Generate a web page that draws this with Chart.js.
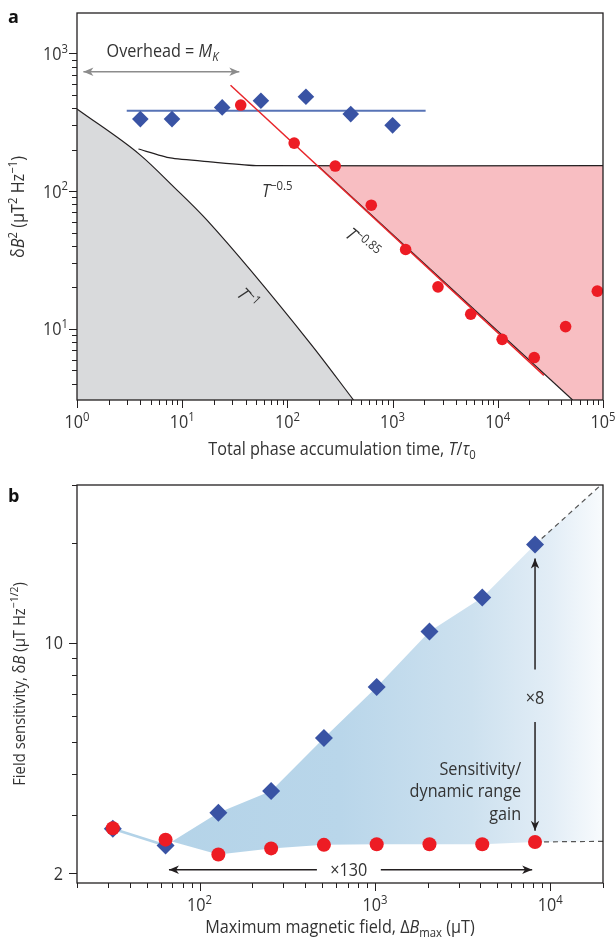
<!DOCTYPE html>
<html>
<head>
<meta charset="utf-8">
<script src="https://cdn.jsdelivr.net/npm/chart.js@4.4.1/dist/chart.umd.min.js"></script>
<style>
  html, body { margin: 0; padding: 0; background: #fff; }
  #wrap { position: relative; width: 616px; height: 941px; }
  .panel { position: absolute; left: 0; width: 616px; }
  #panelA { top: 0; height: 470px; }
  #panelB { top: 470px; height: 471px; }
</style>
</head>
<body>
<div id="wrap">
  <div class="panel" id="panelA"><canvas id="chartA" width="616" height="470"></canvas></div>
  <div class="panel" id="panelB"><canvas id="chartB" width="616" height="471"></canvas></div>
</div>
<script>
// ---------- panel a : dB^2 vs total phase accumulation time ----------
const aDiamondT = [4, 8, 24, 56, 150, 400, 1000];
const aDiamondB2 = [333, 333, 405, 453, 484, 362, 300];
const aCircleT = [36, 116, 285, 627, 1330, 2700, 5530, 11000, 22200, 44100, 88300];
const aCircleB2 = [421, 223, 152, 79, 37.7, 20.2, 12.8, 8.4, 6.2, 10.4, 18.8];
const aFlatFitT = [2.97, 2060];
const aFlatFitB2 = [383, 383];
const aSteepFitT = [28.8, 27400];
const aSteepFitB2 = [586, 4.6];
const aHalfBoundT = [3.84, 7.7, 18.5, 53, 100000];      // T^-0.5 bound
const aHalfBoundB2 = [202, 174, 163, 153, 153];
const aLimitT = [1, 4, 8.3, 17.2, 165.6, 425];           // T^-1 limit (grey)
const aLimitB2 = [394, 182.5, 107.4, 61.5, 7.83, 3.05];
const aGainT = [194.5, 100000, 100000, 51400];           // pink region
const aGainB2 = [153, 153, 3.05, 3.05];
const aEdgeT = [194.5, 51400];
const aEdgeB2 = [153, 3.05];
const aXTicks = [1, 10, 100, 1000, 10000, 100000];
const aXTickLabels = ['10^0', '10^1', '10^2', '10^3', '10^4', '10^5'];
const aYTicks = [10, 100, 1000];
const aYTickLabels = ['10^1', '10^2', '10^3'];

// ---------- panel b : field sensitivity vs maximum field ----------
const bFieldMax = [32, 64, 128, 256, 512, 1024, 2048, 4096, 8192];
const bDiamond = [2.73, 2.43, 3.05, 3.55, 5.14, 7.34, 10.8, 13.7, 19.8];
const bCircle = [2.74, 2.53, 2.28, 2.38, 2.44, 2.45, 2.45, 2.45, 2.49];
const bTrendField = [8192, 20000];
const bDiamondTrend = [19.8, 30.4];
const bCircleTrend = [2.49, 2.5];
const bXTicks = [100, 1000, 10000];
const bXTickLabels = ['10^2', '10^3', '10^4'];
const bYTicks = [2, 10];
const bYTickLabels = ['2', '10'];

const FONT = '"Open Sans", "DejaVu Sans", sans-serif';
const TEXT = '#333333';
const AXIS = '#231f20';
const BLUE = '#3953a4';
const RED = '#ed1c24';
const SQUEEZE = 0.9;   // narrower letters, closer to the original typeface
const FS = 18;

const pts = (xs, ys) => xs.map((x, i) => ({ x, y: ys[i] }));

function fontStr(size, italic, bold) {
  return (italic ? 'italic ' : '') + (bold ? 'bold ' : '') + size + 'px ' + FONT;
}

// draw text made of segments: {t, it, sup, sub}
function drawRich(ctx, segs, x, y, size, align, angle, middle) {
  ctx.save();
  ctx.translate(x, y);
  if (angle) ctx.rotate(angle);
  ctx.scale(SQUEEZE, 1);
  const parts = segs.map(s => {
    const sz = (s.sup || s.sub) ? size * 0.7 : size;
    ctx.font = fontStr(sz, s.it);
    return { s, sz, w: ctx.measureText(s.t).width };
  });
  const total = parts.reduce((a, p) => a + p.w, 0);
  let cx = align === 'center' ? -total / 2 : align === 'right' ? -total : 0;
  const base = middle ? size * 0.36 : 0;
  ctx.textAlign = 'left';
  ctx.textBaseline = 'alphabetic';
  ctx.fillStyle = TEXT;
  parts.forEach(p => {
    ctx.font = fontStr(p.sz, p.s.it);
    const dy = p.s.sup ? -size * 0.4 : p.s.sub ? size * 0.22 : 0;
    ctx.fillText(p.s.t, cx, base + dy);
    cx += p.w;
  });
  ctx.restore();
}

function tickSegs(label) {
  const [b, e] = label.split('^');
  return e === undefined ? [{ t: b }] : [{ t: b }, { t: e, sup: true }];
}

function minorTicks(min, max) {
  const out = [];
  for (let d = Math.pow(10, Math.floor(Math.log10(min))); d <= max; d *= 10) {
    for (let m = 2; m <= 9; m++) {
      const v = m * d;
      if (v >= min * 0.999 && v <= max * 1.001) out.push(v);
    }
  }
  return out;
}

function arrowHead(ctx, tx, ty, ang, len, w) {
  const c = Math.cos(ang), s = Math.sin(ang);
  ctx.beginPath();
  ctx.moveTo(tx, ty);
  ctx.lineTo(tx - len * c + w * s, ty - len * s - w * c);
  ctx.lineTo(tx - len * 0.72 * c, ty - len * 0.72 * s);
  ctx.lineTo(tx - len * c - w * s, ty - len * s + w * c);
  ctx.closePath();
  ctx.fill();
}

function arrow(ctx, x1, y1, x2, y2, color, both) {
  ctx.save();
  ctx.strokeStyle = color;
  ctx.fillStyle = color;
  ctx.lineWidth = 1.5;
  ctx.beginPath();
  ctx.moveTo(x1, y1);
  ctx.lineTo(x2, y2);
  ctx.stroke();
  const ang = Math.atan2(y2 - y1, x2 - x1);
  arrowHead(ctx, x2, y2, ang, 10, 4.2);
  if (both) arrowHead(ctx, x1, y1, ang + Math.PI, 10, 4.2);
  ctx.restore();
}

// frame, log ticks and tick labels drawn through the chart scales
const logAxes = {
  id: 'logAxes',
  afterDraw(chart, args, o) {
    const ctx = chart.ctx;
    const area = chart.chartArea;
    const xs = chart.scales.x, ys = chart.scales.y;
    ctx.save();
    ctx.strokeStyle = AXIS;
    ctx.lineWidth = 1.3;
    ctx.strokeRect(area.left, area.top, area.right - area.left, area.bottom - area.top);
    ctx.lineWidth = 1;
    ctx.beginPath();
    minorTicks(xs.min, xs.max).forEach(v => {
      const px = Math.round(xs.getPixelForValue(v)) + 0.5;
      ctx.moveTo(px, area.bottom);
      ctx.lineTo(px, area.bottom + 5);
    });
    o.xMajor.forEach(v => {
      const px = Math.round(xs.getPixelForValue(v)) + 0.5;
      ctx.moveTo(px, area.bottom);
      ctx.lineTo(px, area.bottom + 8);
    });
    minorTicks(ys.min, ys.max).forEach(v => {
      const py = Math.round(ys.getPixelForValue(v)) + 0.5;
      ctx.moveTo(area.left, py);
      ctx.lineTo(area.left - 5, py);
    });
    o.yMajor.forEach(v => {
      const py = Math.round(ys.getPixelForValue(v)) + 0.5;
      ctx.moveTo(area.left, py);
      ctx.lineTo(area.left - 8, py);
    });
    ctx.stroke();
    ctx.restore();
    o.xMajor.forEach((v, i) => {
      drawRich(ctx, tickSegs(o.xLabels[i]), xs.getPixelForValue(v), area.bottom + o.xLabelDy, FS, 'center');
    });
    o.yMajor.forEach((v, i) => {
      drawRich(ctx, tickSegs(o.yLabels[i]), area.left - o.yLabelDx, ys.getPixelForValue(v), FS, 'right', 0, true);
    });
    // axis titles and panel letter
    drawRich(ctx, o.xTitle, (area.left + area.right) / 2 + o.xTitleDx, o.xTitleY, FS, 'center');
    drawRich(ctx, o.yTitle, o.yTitleX, o.yTitleY, o.yTitleSize, 'center', -Math.PI / 2);
    ctx.save();
    ctx.font = fontStr(18, false, true);
    ctx.fillStyle = '#111';
    ctx.fillText(o.letter, 8, o.letterY);
    ctx.restore();
  }
};

function baseScale(min, max, size, pos) {
  return {
    type: 'logarithmic',
    position: pos,
    min: min,
    max: max,
    grid: { display: false },
    border: { display: false },
    ticks: { display: false },
    afterFit: s => { if (pos === 'left') s.width = size; else s.height = size; }
  };
}

// ---------- chart a ----------
const annotA = {
  id: 'annotA',
  afterDraw(chart) {
    const ctx = chart.ctx;
    const xs = chart.scales.x, ys = chart.scales.y;
    const X = v => xs.getPixelForValue(v), Y = v => ys.getPixelForValue(v);
    arrow(ctx, X(1.15), Y(735), X(34.9), Y(735), '#8c8c8c', true);
    drawRich(ctx, [{ t: 'Overhead = ' }, { t: 'M', it: true }, { t: 'K', it: true, sub: true }],
      X(6.5), Y(936), FS, 'center');
    drawRich(ctx, [{ t: 'T', it: true }, { t: '\u22120.5', sup: true }], X(57.4), Y(90.9), FS, 'left');
    drawRich(ctx, [{ t: 'T', it: true }, { t: '\u22120.85', sup: true }], X(518), Y(41.9), FS, 'center', 0.70, true);
    drawRich(ctx, [{ t: 'T', it: true }, { t: '\u22121', sup: true }], X(42.1), Y(16.7), FS, 'center', 0.80, true);
  }
};

new Chart(document.getElementById('chartA'), {
  type: 'scatter',
  data: {
    datasets: [
      { data: pts(aCircleT, aCircleB2), pointStyle: 'circle', pointRadius: 5.8, pointBorderWidth: 0,
        backgroundColor: RED, borderColor: RED },
      { data: pts(aDiamondT, aDiamondB2), pointStyle: 'rectRot', pointRadius: 8.3, pointBorderWidth: 0,
        backgroundColor: BLUE, borderColor: BLUE },
      { data: pts(aSteepFitT, aSteepFitB2), showLine: true, pointRadius: 0, borderColor: '#e8262b', borderWidth: 1.5 },
      { data: pts(aFlatFitT, aFlatFitB2), showLine: true, pointRadius: 0, borderColor: '#5773b6', borderWidth: 2 },
      { data: pts(aEdgeT, aEdgeB2), showLine: true, pointRadius: 0, borderColor: '#231f20', borderWidth: 1.2 },
      { data: pts(aHalfBoundT, aHalfBoundB2), showLine: true, pointRadius: 0, borderColor: '#231f20', borderWidth: 1.2, tension: 0.2 },
      { data: pts(aLimitT, aLimitB2), showLine: true, pointRadius: 0, borderColor: '#231f20', borderWidth: 1.2,
        cubicInterpolationMode: 'monotone', fill: 'start', backgroundColor: '#d9dadc' },
      { data: pts(aGainT, aGainB2), showLine: true, pointRadius: 0, borderWidth: 0, fill: 'shape',
        backgroundColor: '#f8bec2', borderColor: 'rgba(0,0,0,0)' }
    ]
  },
  options: {
    responsive: false,
    animation: false,
    layout: { padding: { left: 0, top: 13, right: 13, bottom: 0 } },
    plugins: {
      legend: { display: false },
      tooltip: { enabled: false },
      logAxes: {
        xMajor: aXTicks, xLabels: aXTickLabels, yMajor: aYTicks, yLabels: aYTickLabels,
        xLabelDy: 28, yLabelDx: 9,
        xTitle: [{ t: 'Total phase accumulation time, ' }, { t: 'T', it: true }, { t: '/' },
          { t: '\u03c4', it: true }, { t: '0', sub: true }],
        xTitleDx: 2, xTitleY: 455,
        yTitle: [{ t: '\u03b4' }, { t: 'B', it: true }, { t: '2', sup: true }, { t: ' (\u03bcT' },
          { t: '2', sup: true }, { t: ' Hz' }, { t: '\u22121', sup: true }, { t: ')' }],
        yTitleX: 24, yTitleY: 207, yTitleSize: FS,
        letter: 'a', letterY: 23
      }
    },
    scales: {
      x: baseScale(1, 100000, 70, 'bottom'),
      y: baseScale(3.05, 1960, 77, 'left')
    }
  },
  plugins: [logAxes, annotA]
});

// ---------- chart b ----------
const annotB = {
  id: 'annotB',
  afterDraw(chart) {
    const ctx = chart.ctx;
    const xs = chart.scales.x, ys = chart.scales.y;
    const X = v => xs.getPixelForValue(v), Y = v => ys.getPixelForValue(v);
    arrow(ctx, X(8192), Y(8.28), X(8192), Y(17.97), AXIS, false);
    arrow(ctx, X(8192), Y(5.75), X(8192), Y(2.69), AXIS, false);
    drawRich(ctx, [{ t: '\u00d78' }], X(8192), Y(6.53), FS, 'center');
    drawRich(ctx, [{ t: 'Sensitivity/' }], X(6820), Y(3.96), FS, 'right');
    drawRich(ctx, [{ t: 'dynamic range' }], X(6820), Y(3.40), FS, 'right');
    drawRich(ctx, [{ t: 'gain' }], X(6820), Y(2.91), FS, 'right');
    arrow(ctx, X(467), Y(2.05), X(66.9), Y(2.05), AXIS, false);
    arrow(ctx, X(1081), Y(2.05), X(7890), Y(2.05), AXIS, false);
    drawRich(ctx, [{ t: '\u00d7130' }], X(710), Y(1.97), FS, 'center');
  }
};

const bandPts = [
  ...pts(bFieldMax.slice(1), bDiamond.slice(1)),
  { x: bTrendField[1], y: bDiamondTrend[1] },
  { x: bTrendField[1], y: bCircleTrend[1] },
  ...pts(bFieldMax.slice(1), bCircle.slice(1)).reverse()
];

function bandGradient(context) {
  const chart = context.chart;
  const area = chart.chartArea;
  if (!area) return '#b3d3e8';
  const g = chart.ctx.createLinearGradient(area.left, 0, area.right, 0);
  g.addColorStop(0, '#b2d2e7');
  g.addColorStop(0.5, '#b9d6ea');
  g.addColorStop(0.75, '#cde1ef');
  g.addColorStop(0.9, '#e2edf6');
  g.addColorStop(1, '#f8fbfd');
  return g;
}

new Chart(document.getElementById('chartB'), {
  type: 'scatter',
  data: {
    datasets: [
      { data: pts(bFieldMax, bCircle), pointStyle: 'circle', pointRadius: 7, pointBorderWidth: 0,
        backgroundColor: RED, borderColor: RED },
      { data: pts(bFieldMax, bDiamond), pointStyle: 'rectRot', pointRadius: 9, pointBorderWidth: 0,
        backgroundColor: BLUE, borderColor: BLUE },
      { data: pts(bTrendField, bDiamondTrend), showLine: true, pointRadius: 0, borderColor: '#555',
        borderWidth: 1.2, borderDash: [5, 4] },
      { data: pts(bTrendField, bCircleTrend), showLine: true, pointRadius: 0, borderColor: '#555',
        borderWidth: 1.2, borderDash: [5, 4] },
      { data: pts(bFieldMax.slice(0, 2), bDiamond.slice(0, 2)), showLine: true, pointRadius: 0,
        borderColor: '#b3d3e8', borderWidth: 2.5 },
      { data: bandPts, showLine: true, pointRadius: 0, borderWidth: 0, fill: 'shape',
        backgroundColor: bandGradient, borderColor: 'rgba(0,0,0,0)' }
    ]
  },
  options: {
    responsive: false,
    animation: false,
    layout: { padding: { left: 0, top: 15, right: 13, bottom: 0 } },
    plugins: {
      legend: { display: false },
      tooltip: { enabled: false },
      logAxes: {
        xMajor: bXTicks, xLabels: bXTickLabels, yMajor: bYTicks, yLabels: bYTickLabels,
        xLabelDy: 28, yLabelDx: 14,
        xTitle: [{ t: 'Maximum magnetic field, \u0394' }, { t: 'B', it: true }, { t: 'max', sub: true },
          { t: ' (\u03bcT)' }],
        xTitleDx: 0, xTitleY: 463,
        yTitle: [{ t: 'Field sensitivity, \u03b4' }, { t: 'B', it: true }, { t: ' (\u03bcT Hz' },
          { t: '\u22121/2', sup: true }, { t: ')' }],
        yTitleX: 25, yTitleY: 214, yTitleSize: 16.5,
        letter: 'b', letterY: 32
      }
    },
    scales: {
      x: baseScale(20, 20000, 58, 'bottom'),
      y: baseScale(1.87, 30, 77, 'left')
    }
  },
  plugins: [logAxes, annotB]
});
</script>
</body>
</html>
